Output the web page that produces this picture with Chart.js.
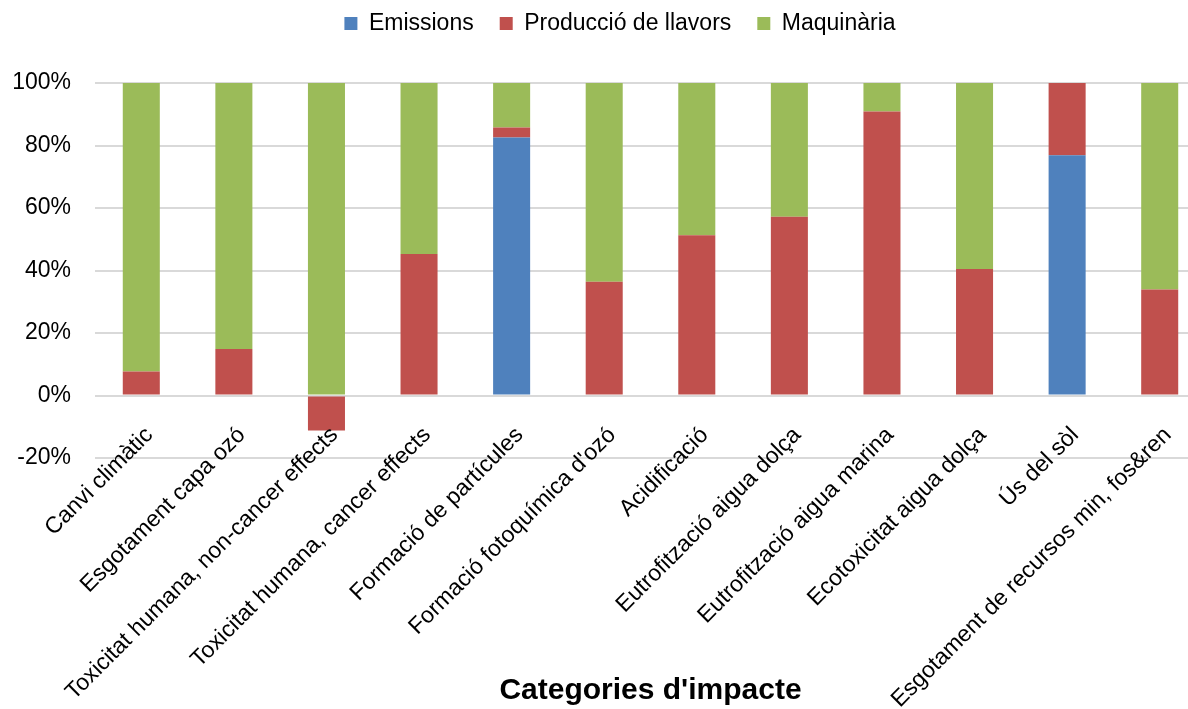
<!DOCTYPE html>
<html>
<head>
<meta charset="utf-8">
<script src="https://cdn.jsdelivr.net/npm/chart.js@4.4.1/dist/chart.umd.min.js"></script>
<style>
  html, body { margin: 0; padding: 0; background: #fff; overflow: hidden; }
  #wrap { width: 1188px; height: 709px; overflow: hidden; }
  #box { width: 1212px; height: 709px; position: relative; }
</style>
</head>
<body>
<div id="wrap"><div id="box"><canvas id="chart"></canvas></div></div>
<script>
const categories = [
  'Canvi climàtic',
  'Esgotament capa ozó',
  'Toxicitat humana, non-cancer effects',
  'Toxicitat humana, cancer effects',
  'Formació de partícules',
  "Formació fotoquímica d'ozó",
  'Acidificació',
  'Eutrofització aigua dolça',
  'Eutrofització aigua marina',
  'Ecotoxicitat aigua dolça',
  'Ús del sòl',
  'Esgotament de recursos min, fos&ren'
];

// shares in percent per impact category
const emissions  = [0, 0, 0, 0, 82.6, 0, 0, 0, 0, 0, 76.9, 0];
const llavors    = [7.7, 14.9, -11.2, 45.3, 3.2, 36.4, 51.3, 57.2, 90.9, 40.5, 23.1, 33.9];
const maquinaria = [92.3, 85.1, 100, 54.7, 14.2, 63.6, 48.7, 42.8, 9.1, 59.5, 0, 66.1];

const yTicks = [-20, 0, 20, 40, 60, 80, 100];

const FONT = "'Liberation Sans', Arial, sans-serif";
const PAD_TOP = -14;
const PLOT_TOP = 83;
const PLOT_LEFT = 95;
const LEGEND_SHIFT = 17;

// legend band sized so the plot starts at PLOT_TOP, and nudged right a little
const legendTweak = {
  id: 'legendTweak',
  beforeInit(chart) {
    const legend = chart.legend;
    const fit = legend.fit;
    legend.fit = function () {
      fit.call(this);
      this.height = PLOT_TOP - PAD_TOP;
    };
    const draw = legend.draw;
    legend.draw = function (area) {
      this.ctx.save();
      this.ctx.translate(LEGEND_SHIFT, 0);
      draw.call(this, area);
      this.ctx.restore();
    };
  }
};

// category labels sit just under the 0% line, slanted 45 degrees
const slantedLabels = {
  id: 'slantedLabels',
  afterDraw(chart) {
    const { ctx, scales: { x, y } } = chart;
    const y0 = y.getPixelForValue(0);
    ctx.save();
    ctx.font = '23px ' + FONT;
    ctx.fillStyle = '#000';
    ctx.textAlign = 'right';
    ctx.textBaseline = 'middle';
    categories.forEach((label, i) => {
      const px = x.getPixelForValue(i);
      ctx.save();
      ctx.translate(px + 8, y0 + 36);
      ctx.rotate(-Math.PI / 4);
      ctx.fillText(label, 0, 0);
      ctx.restore();
    });
    ctx.restore();
  }
};

const ctx = document.getElementById('chart').getContext('2d');
new Chart(ctx, {
  type: 'bar',
  data: {
    labels: categories,
    datasets: [
      { label: 'Emissions', data: emissions, backgroundColor: '#4f81bd' },
      { label: 'Producció de llavors', data: llavors, backgroundColor: '#c0504d' },
      { label: 'Maquinària', data: maquinaria, backgroundColor: '#9bbb59' }
    ]
  },
  plugins: [legendTweak, slantedLabels],
  options: {
    responsive: true,
    maintainAspectRatio: false,
    animation: false,
    layout: { padding: { top: PAD_TOP, right: 6, left: 0, bottom: 0 } },
    datasets: {
      bar: { barPercentage: 0.4, categoryPercentage: 1.0, borderWidth: 0 }
    },
    plugins: {
      tooltip: { enabled: false },
      legend: {
        position: 'top',
        labels: {
          font: { family: FONT, size: 23 },
          color: '#000',
          boxWidth: 13,
          boxHeight: 13,
          padding: 26
        }
      }
    },
    scales: {
      x: {
        stacked: true,
        grid: { display: false, drawTicks: false },
        border: { display: false },
        ticks: { display: false },
        title: {
          display: true,
          text: "Categories d'impacte",
          color: '#000',
          font: { family: FONT, size: 30, weight: 'bold' },
          padding: { top: 0, bottom: 0 }
        },
        afterFit: (scale) => { scale.height = 251; }
      },
      y: {
        stacked: true,
        min: yTicks[0],
        max: yTicks[yTicks.length - 1],
        grid: { color: '#d9d9d9', lineWidth: 2, drawTicks: false },
        border: { display: false },
        ticks: {
          stepSize: 20,
          color: '#000',
          font: { family: FONT, size: 23 },
          padding: 24,
          callback: (v) => v + '%'
        },
        afterFit: (scale) => { scale.width = PLOT_LEFT; }
      }
    }
  }
});
</script>
</body>
</html>
